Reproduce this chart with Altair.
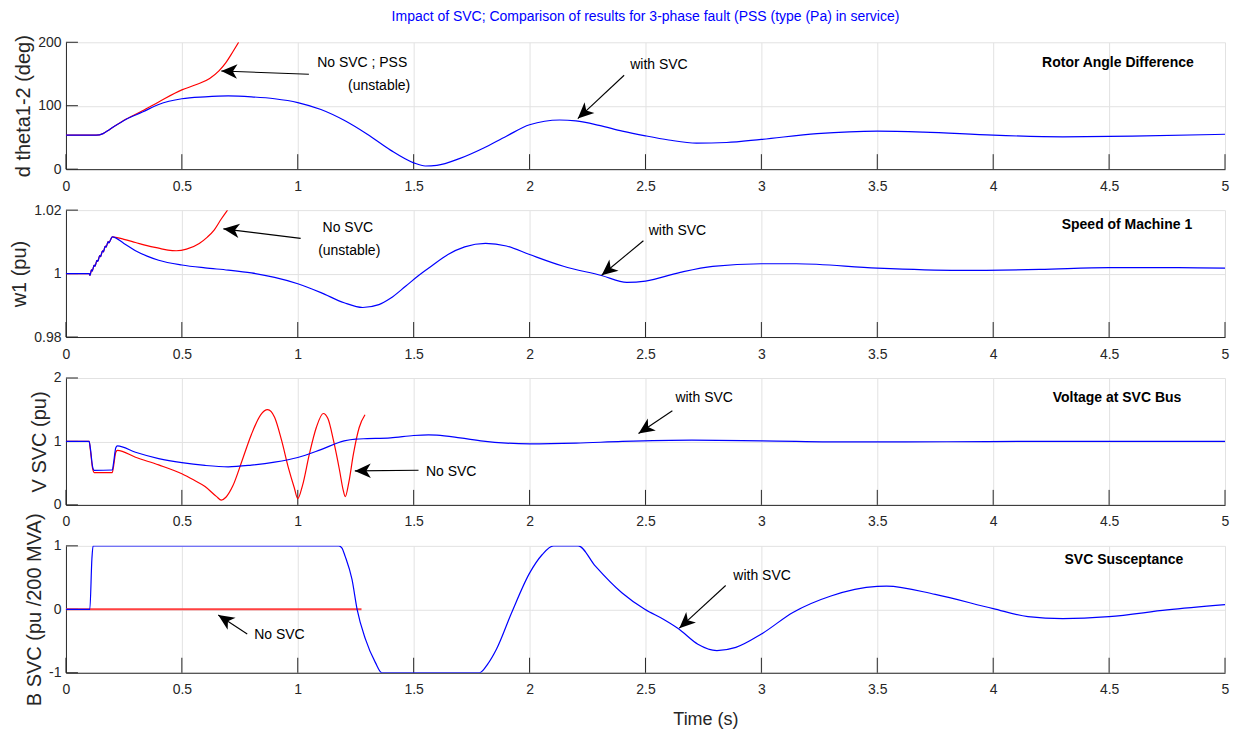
import math
import altair as alt
import pandas as pd

# ---------------- data ----------------
XTICKS = [0, 0.5, 1, 1.5, 2, 2.5, 3, 3.5, 4, 4.5, 5]

# Panel 1: rotor angle difference (deg)
t1_svc = [0, 0.13, 0.16, 0.19, 0.26, 0.33, 0.4, 0.5, 0.6, 0.7, 0.8, 0.9, 1.0, 1.1, 1.2, 1.3, 1.4, 1.5,
          1.55, 1.6, 1.7, 1.8, 1.9, 2.0, 2.13, 2.2, 2.3, 2.4, 2.5, 2.6, 2.72, 2.85, 3.0, 3.24, 3.5, 3.7,
          4.0, 4.3, 4.6, 5.0]
v1_svc = [53.5, 53.5, 56, 63, 78.7, 90, 102, 111, 114, 115.4, 114, 111, 105, 94, 77, 55, 30, 10,
          5, 6, 17, 33, 52, 70, 77.5, 76, 69, 60, 52.5, 46, 41, 42, 47, 56, 60, 58.5,
          53.5, 51, 52, 55]
t1_no = [0, 0.13, 0.16, 0.19, 0.26, 0.33, 0.4, 0.5, 0.56, 0.62, 0.66, 0.69, 0.72, 0.745]
v1_no = [53.5, 53.5, 56, 63, 79, 92, 106, 125, 133, 143, 155, 168, 185, 200]

# Panel 2: speed of machine 1 (pu)
t2_ramp = [0.100, 0.104, 0.110, 0.113, 0.122, 0.125, 0.134, 0.137, 0.146, 0.149, 0.158, 0.161,
           0.170, 0.173, 0.182, 0.185, 0.200]
v2_ramp = [1.0000, 0.9994, 1.0012, 1.0008, 1.0027, 1.0023, 1.0042, 1.0038, 1.0057, 1.0053, 1.0072,
           1.0068, 1.0087, 1.0083, 1.0101, 1.0097, 1.0116]
t2_svc = [0] + t2_ramp + [0.25, 0.3, 0.35, 0.4, 0.5, 0.6, 0.7, 0.8, 0.9, 1.0, 1.1, 1.2, 1.28, 1.35, 1.4,
                          1.465, 1.52, 1.576, 1.648, 1.72, 1.81, 1.9, 2.0, 2.146, 2.31, 2.42, 2.5, 2.65,
                          2.79, 3.0, 3.15, 3.5, 3.85, 4.2, 4.5, 4.8, 5.0]
v2_svc = [1.0] + v2_ramp + [1.0095, 1.0072, 1.0055, 1.0042, 1.0027, 1.0018, 1.0011, 1.0002, 0.9988,
                            0.9968, 0.9940, 0.9908, 0.9893, 0.9902, 0.9922, 0.9960, 0.9993, 1.0023,
                            1.0060, 1.0084, 1.0095, 1.0087, 1.0060, 1.0023, 0.9994, 0.9972, 0.9976,
                            1.0004, 1.0023, 1.0031, 1.0031, 1.0017, 1.0010, 1.0013, 1.0019, 1.0019,
                            1.0017]
t2_no = [0] + t2_ramp + [0.25, 0.3, 0.35, 0.4, 0.44, 0.476, 0.52, 0.575, 0.61, 0.64, 0.67, 0.697]
v2_no = [1.0] + v2_ramp + [1.0108, 1.0098, 1.0088, 1.0080, 1.0074, 1.0072, 1.0077, 1.0095, 1.0115,
                           1.0138, 1.0172, 1.0200]

# Panel 3: voltage at SVC bus (pu)
t3_svc = [0, 0.1, 0.105, 0.115, 0.122, 0.2, 0.205, 0.215, 0.222, 0.3, 0.4, 0.5, 0.6, 0.7, 0.8, 0.9,
          1.0, 1.1, 1.2, 1.25, 1.3, 1.4, 1.5, 1.564, 1.6, 1.7, 1.8, 1.9, 2.0, 2.2, 2.4, 2.7, 3.0,
          3.4, 3.8, 4.2, 5.0]
v3_svc = [1.0, 1.0, 0.9, 0.6, 0.545, 0.55, 0.65, 0.9, 0.93, 0.83, 0.73, 0.665, 0.622, 0.60, 0.627,
          0.674, 0.747, 0.872, 1.01, 1.038, 1.044, 1.055, 1.094, 1.104, 1.099, 1.057, 1.005, 0.974,
          0.963, 0.974, 1.0, 1.02, 1.01, 0.992, 0.995, 1.002, 1.0]
t3_no = [0, 0.1, 0.105, 0.115, 0.122, 0.2, 0.205, 0.215, 0.222, 0.3, 0.4, 0.5, 0.55, 0.6, 0.65, 0.67,
         0.69, 0.72, 0.76, 0.8, 0.84, 0.87, 0.9, 0.93, 0.96, 0.985, 1.0, 1.02, 1.05, 1.08, 1.11,
         1.13, 1.155, 1.18, 1.195, 1.205, 1.22, 1.24, 1.265, 1.29]
v3_no = [1.0, 1.0, 0.88, 0.57, 0.51, 0.51, 0.6, 0.83, 0.86, 0.75, 0.63, 0.49, 0.395, 0.29, 0.13,
         0.075, 0.12, 0.30, 0.70, 1.11, 1.42, 1.50, 1.38, 1.02, 0.58, 0.27, 0.10, 0.30, 0.80, 1.22,
         1.44, 1.36, 1.0, 0.55, 0.25, 0.13, 0.35, 0.80, 1.22, 1.42]

# Panel 4: SVC susceptance (pu / 200 MVA)
t4_svc = [0, 0.103, 0.112, 0.117, 1.177, 1.19, 1.205, 1.234, 1.256, 1.292, 1.335, 1.363, 1.784, 1.82,
          1.857, 1.923, 2.0, 2.054, 2.103, 2.21, 2.284, 2.398, 2.497, 2.579, 2.644, 2.726, 2.808,
          2.89, 3.0, 3.136, 3.3, 3.5, 3.54, 3.75, 4.0, 4.15, 4.3, 4.5, 4.75, 5.0]
v4_svc = [0, 0, 0.8, 1, 1, 0.97, 0.83, 0.47, 0, -0.47, -0.84, -1, -1, -0.86,
          -0.63, -0.05, 0.57, 0.86, 1, 1, 0.68, 0.26, 0, -0.16, -0.31, -0.55, -0.65,
          -0.6, -0.39, -0.05, 0.21, 0.36, 0.365, 0.235, 0.01, -0.115, -0.146, -0.115, -0.01, 0.073]
t4_no = [0, 1.275]
v4_no = [0, 0]

# annotations: (text, t, v, bold)
ann1 = [("No SVC ;  PSS", 1.278, 167, False), ("(unstable)", 1.351, 130.7, False),
        ("with SVC", 2.558, 163.8, False), ("Rotor Angle Difference", 4.538, 167, True)]
ann2 = [("No SVC", 1.216, 1.0144, False), ("(unstable)", 1.222, 1.0071, False),
        ("with SVC", 2.638, 1.0135, False), ("Speed of Machine 1", 4.577, 1.0153, True)]
ann3 = [("with SVC", 2.753, 1.6875, False), ("No SVC", 1.662, 0.52, False),
        ("Voltage at  SVC Bus", 4.534, 1.683, True)]
ann4 = [("No SVC", 0.921, -0.40, False), ("with SVC", 3.003, 0.531, False),
        ("SVC Susceptance", 4.564, 0.781, True)]
# arrows: (t_start, v_start, t_tip, v_tip)
arr1 = [(1.048, 149.6, 0.670, 154.8), (2.408, 148, 2.208, 79.8)]
arr2 = [(1.0125, 1.0111, 0.679, 1.0141), (2.491, 1.01035, 2.311, 0.99946)]
arr3 = [(2.616, 1.484, 2.470, 1.125), (1.521, 0.547, 1.246, 0.536)]
arr4 = [(0.782, -0.39, 0.657, -0.089), (2.846, 0.375, 2.646, -0.297)]

TITLE = "Impact of SVC; Comparison of results for 3-phase fault (PSS  (type (Pa) in service)"

# ---------------- styling ----------------
W, H = 1160, 127
AX = "#262626"
GRID = "#e2e2e2"
NF = "Liberation Sans, Arial, sans-serif"
RF = "Liberation Sans, Arial, sans-serif"
HEAD = "M0,0L-2,-0.9L-1.45,0L-2,0.9Z"


def panel(tv, vv, tn, vn, ydom, yticks, ytitle, ann, arr, xtitle=None, title=None,
          red_w=1.2, red_c="#ff0000"):
    xs = alt.Scale(domain=[0, 5], nice=False, zero=False)
    ys = alt.Scale(domain=ydom, nice=False, zero=False)
    xkw = dict(values=XTICKS, labelExpr="toString(datum.value)", ticks=False, grid=True,
               gridColor=GRID, domainColor=AX, labelColor=AX, labelFont=NF, labelFontSize=14,
               labelPadding=10, labelFlush=False, labelOverlap=False)
    if xtitle:
        xkw.update(title=xtitle, titleFont=RF, titleFontSize=18, titleFontWeight="normal",
                   titleColor=AX, titleX=640, titlePadding=14)
    else:
        xkw.update(title=None)
    xaxis = alt.Axis(**xkw)
    yaxis = alt.Axis(values=yticks, labelExpr="toString(datum.value)", ticks=False, grid=True,
                     gridColor=GRID, domainColor=AX, labelColor=AX, labelFont=NF, labelFontSize=14,
                     labelPadding=5, labelFlush=False, labelOverlap=False, title=ytitle,
                     titleFont=RF, titleFontSize=20, titleFontWeight="normal", titleColor=AX,
                     titlePadding=4)
    X = alt.X("t:Q", scale=xs, axis=xaxis)
    Y = alt.Y("v:Q", scale=ys, axis=yaxis)

    xt = alt.Chart(pd.DataFrame({"t": XTICKS})).mark_rule(color=AX, strokeWidth=1).encode(
        x=X, y=alt.value(H), y2=alt.value(H - 15))
    yt = alt.Chart(pd.DataFrame({"v": yticks})).mark_rule(color=AX, strokeWidth=1).encode(
        y=Y, x=alt.value(0), x2=alt.value(12))
    red = alt.Chart(pd.DataFrame({"t": tn, "v": vn})).mark_line(
        color=red_c, strokeWidth=red_w, interpolate="monotone", clip=True).encode(x=X, y=Y)
    blue = alt.Chart(pd.DataFrame({"t": tv, "v": vv})).mark_line(
        color="#0000ff", strokeWidth=1.2, interpolate="monotone", clip=True).encode(x=X, y=Y)

    norm = [a for a in ann if not a[3]]
    bold = [a for a in ann if a[3]]
    tn_df = pd.DataFrame({"text": [a[0] for a in norm], "t": [a[1] for a in norm],
                          "v": [a[2] for a in norm]})
    tb_df = pd.DataFrame({"text": [a[0] for a in bold], "t": [a[1] for a in bold],
                          "v": [a[2] for a in bold]})
    txt_n = alt.Chart(tn_df).mark_text(font=NF, fontSize=14, color="#000000", align="center",
                                       baseline="middle").encode(x=X, y=Y, text="text:N")
    txt_b = alt.Chart(tb_df).mark_text(font=NF, fontSize=14, fontWeight="bold", color="#000000",
                                       align="center", baseline="middle").encode(x=X, y=Y, text="text:N")

    ysc = H / (ydom[1] - ydom[0])
    xsc = W / 5.0
    rows = []
    for ts, vs, tt, vt in arr:
        dx = (tt - ts) * xsc
        dy = -(vt - vs) * ysc
        ang = math.degrees(math.atan2(dy, dx)) % 360
        rows.append({"t": ts, "v": vs, "t2": tt, "v2": vt, "tt": tt, "vt": vt, "a": ang})
    adf = pd.DataFrame(rows)
    lines = alt.Chart(adf).mark_rule(color="#000000", strokeWidth=1.1).encode(
        x=X, y=Y, x2="t2:Q", y2="v2:Q")
    heads = alt.Chart(adf).mark_point(shape=HEAD, filled=True, color="#000000", size=256, opacity=1,
                                      strokeWidth=0).encode(
        x=alt.X("tt:Q", scale=xs, axis=xaxis), y=alt.Y("vt:Q", scale=ys, axis=yaxis),
        angle=alt.Angle("a:Q", scale=None))

    layer = alt.layer(xt, yt, red, blue, lines, heads, txt_n, txt_b).properties(width=W, height=H)
    if title:
        layer = layer.properties(title=alt.TitleParams(
            text=title, color="#0000ff", font=NF, fontSize=14, fontWeight="normal",
            anchor="middle", frame="group", offset=11))
    return layer


p1 = panel(t1_svc, v1_svc, t1_no, v1_no, [0, 200], [0, 100, 200], "d theta1-2 (deg)", ann1, arr1,
           title=TITLE)
p2 = panel(t2_svc, v2_svc, t2_no, v2_no, [0.98, 1.02], [0.98, 1, 1.02], "w1 (pu)", ann2, arr2)
p3 = panel(t3_svc, v3_svc, t3_no, v3_no, [0, 2], [0, 1, 2], "V SVC (pu)", ann3, arr3)
p4 = panel(t4_svc, v4_svc, t4_no, v4_no, [-1, 1], [-1, 0, 1], "B SVC (pu /200 MVA)", ann4, arr4,
           xtitle="Time (s)", red_w=2, red_c="#ff4040")

chart = alt.vconcat(p1, p2, p3, p4, spacing=41, bounds="flush").properties(
    padding={"left": 1, "top": 0, "right": 0, "bottom": 0},
    background="#ffffff",
).configure_view(stroke="transparent")

chart.save("out.html", embed_options={"renderer": "svg", "actions": False})
